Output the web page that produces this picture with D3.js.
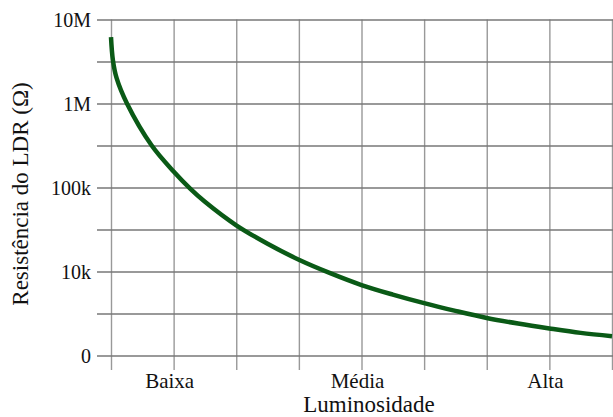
<!DOCTYPE html>
<html>
<head>
    <meta charset="utf-8">
    <script src="https://d3js.org/d3.v7.min.js"></script>
    <style>
        body { margin: 0; background: white; }
        .hgrid line { stroke: #777; stroke-width: 1.4px; }
        .vgrid line { stroke: #999; stroke-width: 1.4px; }
        .curve { fill: none; stroke: #0a5a16; stroke-width: 4.5px; stroke-linecap: butt; }
    </style>
</head>
<body>
<svg id="chart" width="613" height="417"></svg>
<script>
    // luminosity in grid units (0..8), resistance in ohms
    const luminosity = [0, 0.03, 0.09, 0.255, 0.65, 1.0, 1.26, 1.5, 2.0, 2.5, 3.0, 3.5, 4.0, 4.5, 5.0, 5.5, 6.0, 6.5, 7.0, 7.5, 8.0];
    const resistance = [6.17e6, 3.3e6, 2.0e6, 1.0e6, 3.16e5, 1.55e5, 9.77e4, 6.76e4, 3.55e4, 2.14e4, 1.38e4, 9.55e3, 6.9e3, 5.31e3, 4.2e3, 3.4e3, 2.8e3, 2.4e3, 2.1e3, 1.86e3, 1.7e3];

    const yTickValues = [1e3, 1e4, 1e5, 1e6, 1e7];
    const yTickLabels = ['0', '10k', '100k', '1M', '10M'];
    const categories = ['Baixa', 'Média', 'Alta'];
    const categoryPos = [1, 4, 7];
    const gridX = [0, 1, 2, 3, 4, 5, 6, 7, 8];

    const serif = '"Liberation Serif", "Times New Roman", Times, "DejaVu Serif", serif';

    const svg = d3.select('#chart');
    const plotLeft = 111, plotRight = 612, plotTop = 19.5, plotBottom = 355.5;

    const x = d3.scaleLinear().domain([0, 8]).range([plotLeft, plotRight]);
    const y = d3.scaleLog().domain([1e3, 1e7]).range([plotBottom, plotTop]);

    // half-decade grid lines
    let gridY = [];
    for (let e = 3; e <= 7; e += 0.5) gridY.push(Math.pow(10, e));

    // vertical grid
    svg.append('g')
        .attr('class', 'vgrid')
        .attr('transform', `translate(0, 370)`)
        .call(d3.axisBottom(x).tickValues(gridX).tickSize(-(370 - plotTop)).tickFormat(''))
        .call(g => g.select('.domain').remove());

    // horizontal grid + labels
    const labelFor = v => {
        const i = yTickValues.findIndex(t => Math.abs(Math.log10(t) - Math.log10(v)) < 1e-6);
        return i >= 0 ? yTickLabels[i] : '';
    };
    svg.append('g')
        .attr('class', 'hgrid')
        .attr('transform', `translate(97, 0)`)
        .attr('font-family', serif)
        .call(d3.axisLeft(y).tickValues(gridY).tickSize(-(613 - 97)).tickPadding(6).tickFormat(labelFor))
        .call(g => g.select('.domain').remove())
        .call(g => g.selectAll('text')
            .style('font-family', serif)
            .style('font-size', '20px')
            .attr('fill', '#111')
            .attr('dy', '0.33em'));

    // curve
    const pts = luminosity.map((l, i) => [l, resistance[i]]);
    svg.append('path')
        .datum(pts)
        .attr('class', 'curve')
        .attr('d', d3.line().x(d => x(d[0])).y(d => y(d[1])).curve(d3.curveCatmullRom.alpha(0.5)));

    // category labels
    svg.selectAll('text.cat')
        .data(categories)
        .join('text')
        .attr('class', 'cat')
        .attr('x', (d, i) => x(categoryPos[i]) - 4)
        .attr('y', 388)
        .attr('text-anchor', 'middle')
        .attr('fill', '#111')
        .style('font-family', serif)
        .style('font-size', '21px')
        .text(d => d);

    svg.append('text')
        .attr('x', 369)
        .attr('y', 412)
        .attr('text-anchor', 'middle')
        .attr('fill', '#111')
        .style('font-family', serif)
        .style('font-size', '23px')
        .text('Luminosidade');

    svg.append('text')
        .attr('transform', 'translate(28, 194) rotate(-90)')
        .attr('text-anchor', 'middle')
        .attr('fill', '#111')
        .style('font-family', serif)
        .style('font-size', '23px')
        .text('Resistência do LDR (Ω)');
</script>
</body>
</html>
